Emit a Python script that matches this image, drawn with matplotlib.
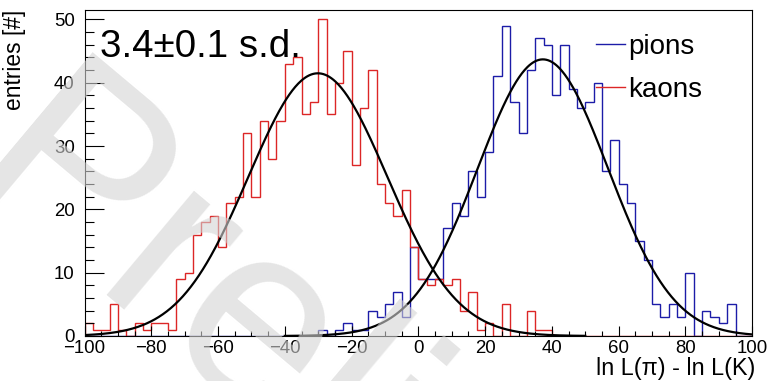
import numpy as np
import matplotlib
matplotlib.use("Agg")
import matplotlib.pyplot as plt
from matplotlib.ticker import MultipleLocator

plt.rcParams['font.family'] = ['Liberation Sans', 'DejaVu Sans']

# 80 bins of width 2.5 over the range [-100, 100]
bin_edges = np.linspace(-100, 100, 81)

kaon_counts = [
    2, 1, 1, 5, 1, 0, 2, 1, 2, 2,
    1, 9, 10, 16, 18, 19, 14, 21, 22, 32,
    22, 34, 28, 34, 43, 44, 35, 37, 50, 35,
    40, 45, 27, 36, 42, 24, 21, 19, 23, 14,
    9, 8, 9, 8, 9, 4, 7, 1, 2, 0,
    5, 0, 0, 4, 1, 1, 0, 0, 0, 0,
    0, 0, 0, 0, 0, 0, 0, 0, 0, 0,
    0, 0, 0, 0, 0, 0, 0, 0, 0, 0,
]

pion_counts = [
    0, 0, 0, 0, 0, 0, 0, 0, 0, 0,
    0, 0, 0, 0, 0, 0, 0, 0, 0, 0,
    0, 0, 0, 0, 0, 0, 0, 0, 1, 0,
    1, 2, 1, 1, 4, 3, 5, 7, 3, 14,
    9, 9, 9, 17, 21, 19, 26, 22, 29, 41,
    49, 37, 32, 42, 47, 46, 38, 46, 39, 36,
    37, 40, 26, 31, 24, 21, 15, 12, 5, 3,
    5, 3, 10, 0, 4, 3, 2, 5, 0, 0,
]

# Gaussian fit parameters: amplitude, mean, sigma, fit range
kaon_fit = (41.5, -30.1, 20.8)
kaon_fit_range = (-100, 50)
pion_fit = (43.7, 37.3, 19.5)
pion_fit_range = (-40, 100)

separation_text = "3.4\u00b10.1 s.d."
x_title = "ln L(\u03c0) - ln L(K)"
y_title = "entries [#]"
watermark = "Preliminary"


def gauss(x, amp, mean, sigma):
    return amp * np.exp(-0.5 * ((x - mean) / sigma) ** 2)


W, H = 769, 381
fig = plt.figure(figsize=(W / 100, H / 100), dpi=100)
ax = fig.add_axes([84.5 / W, 1 - 336 / H, (752.2 - 84.5) / W, (336 - 10) / H])

pion_color = '#1c1ca8'
kaon_color = '#dc2626'

ax.stairs(pion_counts, bin_edges, color=pion_color, lw=1.0, baseline=0, label='pions')
ax.stairs(kaon_counts, bin_edges, color=kaon_color, lw=1.0, baseline=0, label='kaons')

xk = np.linspace(*kaon_fit_range, 500)
ax.plot(xk, gauss(xk, *kaon_fit), color='black', lw=1.6)
xp = np.linspace(*pion_fit_range, 500)
ax.plot(xp, gauss(xp, *pion_fit), color='black', lw=1.6)

ax.set_xlim(-100, 100)
ax.set_ylim(0, 51.5)

ax.xaxis.set_major_locator(MultipleLocator(20))
ax.xaxis.set_minor_locator(MultipleLocator(5))
ax.yaxis.set_major_locator(MultipleLocator(10))
ax.yaxis.set_minor_locator(MultipleLocator(2))

ax.tick_params(axis='x', which='major', direction='in', length=7.2, width=0.8,
               labelsize=13.4, pad=3)
ax.tick_params(axis='x', which='minor', direction='in', length=3.6, width=0.8)
ax.tick_params(axis='y', which='major', direction='in', length=13.7, width=0.8,
               labelsize=13.4, pad=7)
ax.tick_params(axis='y', which='minor', direction='in', length=6.8, width=0.8)
for s in ax.spines.values():
    s.set_linewidth(0.8)
    s.set_color('black')

fig.text(755 / W, 1 - 368 / H, x_title, ha='right', va='center', fontsize=16.8)
fig.text(15 / W, 1 - 10 / H, y_title, ha='center', va='top', rotation=90, fontsize=16.4)

fig.text(100 / W, 1 - 57 / H, separation_text, ha='left', va='baseline', fontsize=27.7)

leg = ax.legend(loc='upper left', bbox_to_anchor=(596 / W, 1 - 34 / H),
                bbox_transform=fig.transFigure, frameon=False, fontsize=20,
                handlelength=1.05, handletextpad=0.1, labelspacing=0.6,
                borderpad=0, borderaxespad=0)
for h in leg.get_lines():
    h.set_linewidth(1.0)

fig.text(-43 / W, 1 - 187 / H, watermark, ha='left', va='baseline', rotation=-40,
         rotation_mode='anchor', fontsize=184, color='#d4d4d4', alpha=0.6, zorder=100)

fig.savefig('out.png', dpi=100)
